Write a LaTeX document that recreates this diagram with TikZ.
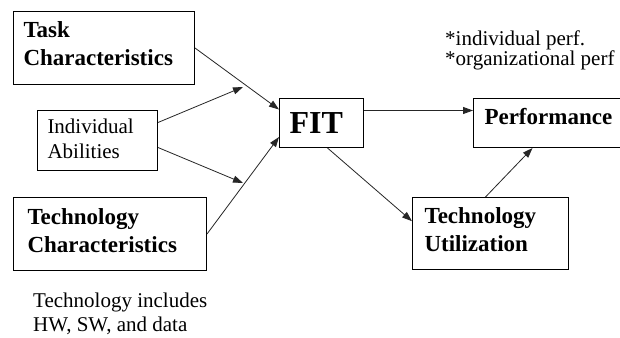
\documentclass[tikz,border=0pt]{standalone}
\usepackage{fontspec}
\setmainfont{LiberationSerif}[Extension=.ttf, UprightFont=*-Regular, BoldFont=*-Bold, ItalicFont=*-Italic, BoldItalicFont=*-BoldItalic]
\usetikzlibrary{arrows.meta}
\newcommand{\lowstrut}[1]{\rule[-#1]{0pt}{#1}}
\tikzset{
  box/.style={draw=black, line width=1pt, rectangle, anchor=north west,
    align=left, inner ysep=0pt},
  boldtxt/.style={font=\fontsize{23}{28}\selectfont\bfseries},
  regtxt/.style={font=\fontsize{21}{25}\selectfont},
  conn/.style={draw=black!85, line width=0.8pt, -{Triangle[length=10pt,width=7pt]}},
  note/.style={anchor=north west, inner sep=0pt, align=left}
}
\begin{document}
\begin{tikzpicture}[x=1pt,y=-1pt]
\useasboundingbox (0,0) rectangle (620,337);
\clip (0,0) rectangle (620,337);
\fill[white] (0,0) rectangle (620,337);

\node[box, boldtxt, minimum width=181pt, minimum height=73pt, inner xsep=10pt, text width=161pt]
  (task) at (13,11) {Task\\Characteristics\lowstrut{8.7pt}};
\node[box, regtxt, minimum width=120pt, minimum height=60pt, inner xsep=10pt, text width=100pt]
  (indiv) at (37,110) {Individual\\Abilities\lowstrut{3.3pt}};
\node[box, boldtxt, minimum width=193pt, minimum height=73pt, inner xsep=14pt, text width=165pt]
  (techc) at (13,197) {Technology\\Characteristics\lowstrut{6.7pt}};
\node[box, font=\fontsize{32}{38}\selectfont\bfseries, minimum width=84pt, minimum height=49pt, inner xsep=10pt, text width=64pt]
  (fit) at (279,98) {FIT};
\node[box, boldtxt, minimum width=160pt, minimum height=49pt, inner xsep=11pt, text width=138pt]
  (perf) at (473,98) {Performance\lowstrut{12.5pt}};
\node[box, boldtxt, minimum width=156pt, minimum height=72pt, inner xsep=12pt, text width=132pt]
  (tu) at (412,197) {Technology\\Utilization\lowstrut{7.7pt}};

\node[note, font=\fontsize{21}{18}\selectfont] (perfnote) at (445,30.7)
  {*individual perf.\\*organizational perf};
\node[note, font=\fontsize{21}{24}\selectfont] (technote) at (33,292.7)
  {Technology includes\\HW, SW, and data};

\coordinate (upTip) at (243,87);
\coordinate (lowTip) at (243,183);

\draw[conn] (task.east) -- ([yshift=13.5pt]fit.west);
\draw[conn] ([yshift=18pt]indiv.east) -- (upTip);
\draw[conn] ([yshift=-7pt]indiv.east) -- (lowTip);
\draw[conn] (techc.east) -- ([yshift=-14pt]fit.west);
\draw[conn] ([yshift=12.5pt]fit.east) -- ([yshift=12.5pt]perf.west);
\draw[conn] ([xshift=6pt]fit.south) -- ([yshift=12.3pt]tu.west);
\draw[conn] ([xshift=-5pt]tu.north) -- ([xshift=-21pt]perf.south);
\end{tikzpicture}
\end{document}
